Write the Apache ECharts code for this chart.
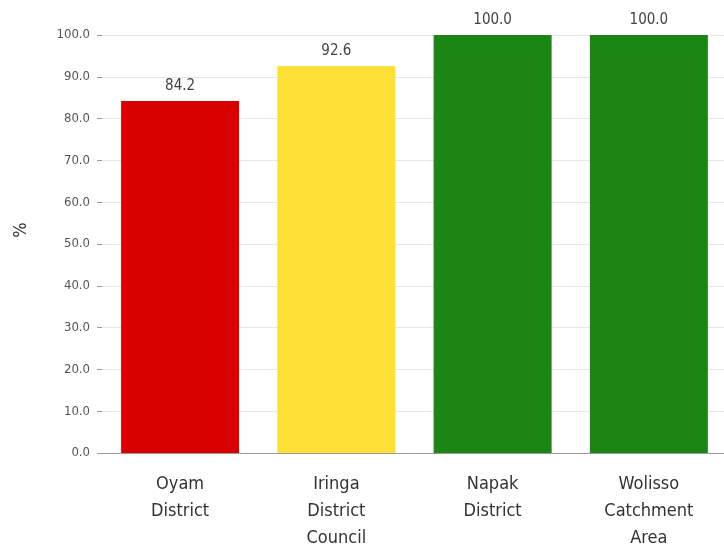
<!DOCTYPE html>
<html><head><meta charset="utf-8">
<script src="https://cdn.jsdelivr.net/npm/echarts@6/dist/echarts.min.js"></script>
<style>html,body{margin:0;padding:0;background:#fff}#c{width:724px;height:546px}</style>
</head><body><div id="c"></div>
<script>
const categories = ["Oyam\nDistrict", "Iringa\nDistrict\nCouncil", "Napak\nDistrict", "Wolisso\nCatchment\nArea"];
const values = [84.2, 92.6, 100.0, 100.0];
const colors = ["#d90000", "#fddf35", "#1c8614", "#1c8614"];
const yAxisTitle = '%';
const chart = echarts.init(document.getElementById('c'));
const FONT = '"DejaVu Sans Condensed", "DejaVu Sans", sans-serif';
chart.setOption({
  animation: false,
  grid: { left: 102, top: 35, width: 625, height: 418, outerBoundsMode: 'none', containLabel: false },
  graphic: [{
    type: 'text', x: 21, y: 230, rotation: Math.PI / 2,
    style: { text: yAxisTitle, fill: '#333', fontSize: 18, fontFamily: FONT, align: 'center', verticalAlign: 'middle' }
  }],
  xAxis: {
    type: 'category', data: categories,
    axisLine: { lineStyle: { color: '#999', width: 1 } },
    axisTick: { show: false },
    axisLabel: { color: '#333', fontSize: 18, lineHeight: 27, margin: 18, fontFamily: FONT }
  },
  yAxis: {
    type: 'value', min: 0, max: 100, interval: 10,
    axisLine: { show: false },
    axisTick: { show: true, length: 5, lineStyle: { color: '#999' } },
    splitLine: { lineStyle: { color: '#e6e6e6' } },
    axisLabel: { color: '#555', fontSize: 13, margin: 12, fontFamily: FONT, formatter: v => v.toFixed(1) }
  },
  series: [{
    type: 'bar', barWidth: 118,
    data: values.map((v, i) => ({ value: v, itemStyle: { color: colors[i] } })),
    label: { show: true, position: 'top', distance: 7, color: '#444', fontSize: 15, fontFamily: FONT, formatter: p => p.value.toFixed(1) }
  }]
});
</script></body></html>
